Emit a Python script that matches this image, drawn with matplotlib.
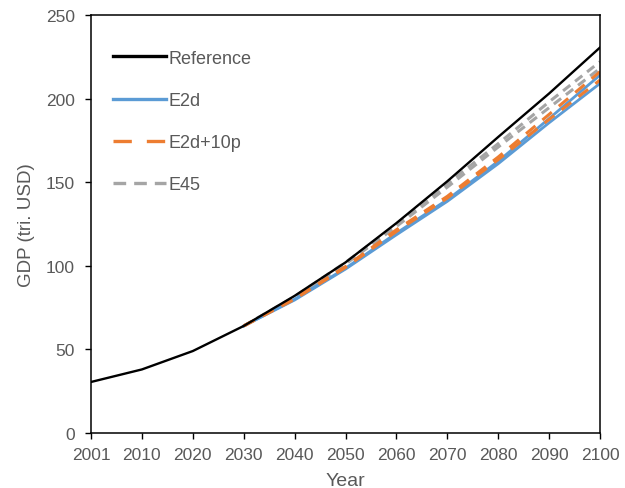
import matplotlib
matplotlib.use("Agg")
import matplotlib.pyplot as plt

years = [2001, 2010, 2020, 2030, 2040, 2050, 2060, 2070, 2080, 2090, 2100]
reference = [30.5, 38, 49, 64, 82, 102, 125.5, 150.5, 177, 203, 230.5]

# scenario runs start at 2030
scen_years = years[3:]
e2d_a = [64, 80, 98.5, 119.5, 139.5, 162.5, 188, 214]
e2d_b = [64, 79.5, 98, 118.5, 138.5, 161, 185.5, 209]
e2d10p_a = [64, 80.5, 99.5, 121.5, 141.5, 165, 190.5, 216]
e2d10p_b = [64, 80, 99, 120.5, 140.5, 163.5, 187.5, 211]
e45_a = [64, 81.5, 102, 124.5, 149, 173, 198, 222]
e45_b = [64, 81, 101, 123.5, 147, 171, 194.5, 218]

plt.rcParams["font.family"] = ["Liberation Sans", "DejaVu Sans"]
txt = "#595959"

fig = plt.figure(figsize=(6.25, 4.89), dpi=100)
ax = fig.add_axes([0.1456, 0.1125, 0.8144, 0.855])

xi = list(range(len(years)))
sxi = xi[3:]

blue = "#5B9BD5"
orange = "#ED7D31"
gray = "#A5A5A5"

ax.plot(sxi, e45_a, color=gray, lw=2.2, ls=(0, (3, 2)))
ax.plot(sxi, e45_b, color=gray, lw=2.2, ls=(0, (3, 2)))
ax.plot(sxi, e2d_a, color=blue, lw=2.0)
ax.plot(sxi, e2d_b, color=blue, lw=2.0)
ax.plot(sxi, e2d10p_a, color=orange, lw=2.2, ls=(0, (4, 3)))
ax.plot(sxi, e2d10p_b, color=orange, lw=2.2, ls=(0, (4, 3)))
ax.plot(xi, reference, color="black", lw=1.7)

h_ref, = ax.plot([], [], color="black", lw=2.4)
h_e2d, = ax.plot([], [], color=blue, lw=2.4)
h_10p, = ax.plot([], [], color=orange, lw=2.4, ls=(0, (5.5, 4.5)))
h_e45, = ax.plot([], [], color=gray, lw=2.4, ls=(0, (3.8, 2.4)))
ax.legend([h_ref, h_e2d, h_10p, h_e45], ["Reference", "E2d", "E2d+10p", "E45"],
          loc="upper left", bbox_to_anchor=(0.043, 0.917), frameon=False,
          borderpad=0, borderaxespad=0, handlelength=2.95, handletextpad=0.15,
          labelspacing=1.4, fontsize=13, labelcolor=txt)

ax.set_xlim(0, len(years) - 1)
ax.set_ylim(0, 250)
ax.set_xticks(xi)
ax.set_xticklabels([str(y) for y in years])
ax.set_yticks(range(0, 251, 50))
ax.tick_params(direction="out", length=4.5, width=1, colors="black",
               labelcolor=txt, labelsize=12.5)
ax.tick_params(axis="x", pad=5.5)
ax.tick_params(axis="y", pad=7)
for s in ax.spines.values():
    s.set_linewidth(1.1)
    s.set_color("black")

ax.set_xlabel("Year", fontsize=14, color=txt)
ax.set_ylabel("GDP (tri. USD)", fontsize=13.5, color=txt)
ax.xaxis.set_label_coords(0.5, -0.094)
ax.yaxis.set_label_coords(-0.11, 0.5)

fig.savefig("out.png", dpi=100)
